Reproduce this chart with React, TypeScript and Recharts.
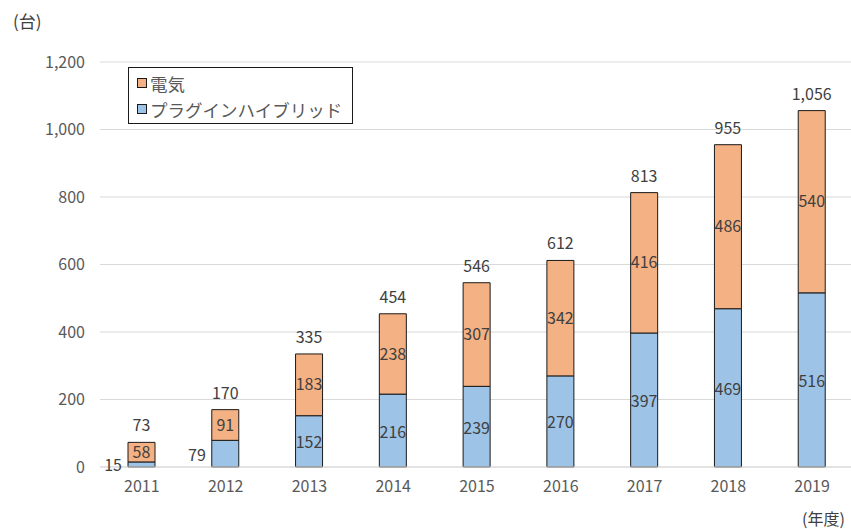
import React from 'react';
import { BarChart, Bar, XAxis, YAxis, CartesianGrid, LabelList } from 'recharts';

const FONT = '"Noto Sans CJK JP", "Noto Sans", sans-serif';

const years = ['2011', '2012', '2013', '2014', '2015', '2016', '2017', '2018', '2019'];
const phevValues = [15, 79, 152, 216, 239, 270, 397, 469, 516];
const evValues = [58, 91, 183, 238, 307, 342, 416, 486, 540];
const yTicks = [0, 200, 400, 600, 800, 1000, 1200];

const seriesNames = { ev: '電気', phev: 'プラグインハイブリッド' };
const colors = { ev: '#F4B183', phev: '#9DC3E6' };

const data = years.map((year, i) => ({
  year,
  phev: phevValues[i],
  ev: evValues[i],
  total: phevValues[i] + evValues[i],
}));

const fmt = (v: number) => Number(v).toLocaleString('en-US');

// blue segment label: inside if there is room, otherwise to the left of the bar
const PhevLabel = (props: any) => {
  const { x, y, width, height, value } = props;
  const small = height < 30;
  return (
    <text
      x={small ? x - 6 : x + width / 2}
      y={y + height / 2}
      textAnchor={small ? 'end' : 'middle'}
      dominantBaseline="central"
      fill="#404040"
      fontSize={16}
      fontFamily={FONT}
    >
      {fmt(value)}
    </text>
  );
};

const TotalLabel = (props: any) => {
  const { x, y, width, value } = props;
  return (
    <text
      x={x + width / 2}
      y={y - 18}
      textAnchor="middle"
      dominantBaseline="central"
      fill="#404040"
      fontSize={16}
      fontFamily={FONT}
    >
      {fmt(value)}
    </text>
  );
};

const App = () => {
  return (
    <div style={{ position: 'absolute', left: 0, top: 0, width: 851, height: 529, overflow: 'hidden', background: '#fff', fontFamily: FONT }}>
      <div style={{ position: 'absolute', left: 13, top: 8, fontSize: 17, color: '#404040' }}>(台)</div>
      <div style={{ position: 'absolute', left: 802, top: 509, fontSize: 16, lineHeight: '18px', color: '#404040', whiteSpace: 'nowrap' }}>(年度)</div>

      <BarChart
        width={855}
        height={529}
        data={data}
        margin={{ top: 62, right: 1, bottom: 32, left: 0 }}
        barSize={27}
      >
        <CartesianGrid vertical={false} stroke="#d9d9d9" />
        <XAxis
          dataKey="year"
          axisLine={{ stroke: '#d9d9d9' }}
          tickLine={false}
          tickMargin={8}
          tick={{ fontSize: 16, fill: '#595959', fontFamily: FONT }}
        />
        <YAxis
          width={100}
          domain={[0, 1200]}
          ticks={yTicks}
          tickFormatter={fmt}
          axisLine={false}
          tickLine={false}
          tickMargin={9}
          tick={{ fontSize: 16, fill: '#595959', fontFamily: FONT }}
        />
        <Bar dataKey="phev" stackId="a" fill={colors.phev} stroke="#1a1a1a" strokeWidth={1} isAnimationActive={false}>
          <LabelList dataKey="phev" content={PhevLabel} />
        </Bar>
        <Bar dataKey="ev" stackId="a" fill={colors.ev} stroke="#1a1a1a" strokeWidth={1} isAnimationActive={false}>
          <LabelList dataKey="ev" position="center" fill="#404040" fontSize={16} fontFamily={FONT} />
          <LabelList dataKey="total" content={TotalLabel} />
        </Bar>
      </BarChart>

      <div
        style={{
          position: 'absolute',
          left: 128,
          top: 67,
          width: 225,
          height: 57,
          border: '1px solid #1a1a1a',
          background: '#fff',
          fontSize: 17.5,
          color: '#595959',
          boxSizing: 'border-box',
        }}
      >
        {(['ev', 'phev'] as const).map((k, i) => (
          <div key={k} style={{ position: 'absolute', left: 8, top: 4 + i * 26, display: 'flex', alignItems: 'center', height: 22, whiteSpace: 'nowrap' }}>
            <span style={{ display: 'inline-block', width: 8, height: 8, background: colors[k], border: '1px solid #1a1a1a', marginRight: 3 }} />
            <span>{seriesNames[k]}</span>
          </div>
        ))}
      </div>
    </div>
  );
};

export default App;
